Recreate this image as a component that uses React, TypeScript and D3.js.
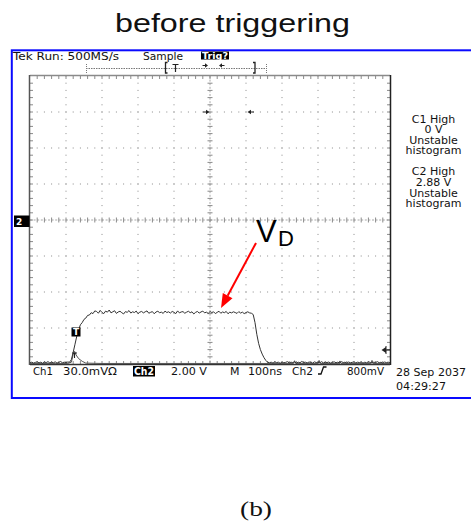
import React from "react";
import * as d3 from "d3";

// ---- data ----
const timeDomain = [-500, 500]; // ns, 100 ns/div
const voltDomain = [-8, 8]; // V, 2 V/div
const ch2Start = -500;
const ch2Step = 5;
const ch2Volts = [
  -7.93, -7.9, -7.95, -7.91, -7.88, -7.94, -7.9, -7.96, -7.89, -7.92, -7.87, -7.94, -7.9, -7.93, -7.88, -7.95, -7.91, -7.86, -7.93, -7.9, -7.92, -7.89, -7.9,
  -7.75, -7.35, -6.9, -6.45, -6.1, -5.82, -5.7, -5.52, -5.45, -5.3, -5.28, -5.15, -5.2, -5.05,
  -5.08, -5.18, -5.02, -5.14, -5.2, -5.06, -5.12, -5.0, -5.16, -5.1,
  -5.04, -5.19, -5.11, -5.07, -5.15, -5.22, -5.09, -5.13, -5.03, -5.17,
  -5.1, -5.14, -5.06, -5.2, -5.12, -5.08, -5.16, -5.1, -5.05, -5.18,
  -5.13, -5.09, -5.21, -5.11, -5.07, -5.15, -5.12, -5.19, -5.06, -5.14,
  -5.1, -5.17, -5.08, -5.13, -5.2, -5.05, -5.16, -5.11, -5.09, -5.18,
  -5.12, -5.07, -5.15, -5.1, -5.22, -5.13, -5.08, -5.17, -5.11, -5.06,
  -5.16, -5.12, -5.19, -5.09, -5.14, -5.1, -5.2, -5.13, -5.07, -5.18,
  -5.11, -5.15, -5.08, -5.21, -5.12, -5.16, -5.1, -5.14, -5.19, -5.09,
  -5.17, -5.12, -5.2, -5.14, -5.1, -5.16, -5.18,
  -5.25, -5.7, -6.35, -6.85, -7.2, -7.45, -7.65, -7.8, -7.9,
  -7.93, -7.9, -7.95, -7.88, -7.92, -7.9, -7.96, -7.89, -7.93, -7.91,
  -7.87, -7.94, -7.9, -7.92, -7.88, -7.95, -7.9, -7.93, -7.86, -7.92,
  -7.9, -7.94, -7.89, -7.91, -7.95, -7.88, -7.92, -7.9, -7.93, -7.87,
  -7.94, -7.9, -7.92, -7.89, -7.95, -7.91, -7.88, -7.93, -7.9, -7.94,
  -7.87, -7.92, -7.9, -7.95, -7.89, -7.93, -7.91, -7.88, -7.94, -7.9,
  -7.92, -7.89, -7.95, -7.9, -7.93, -7.88, -7.91, -7.94, -7.9, -7.92,
  -7.87, -7.93, -7.9, -7.95, -7.89, -7.92, -7.9, -7.93,
];
const ch1Times = [-500, -430, -395, -385, -380, -376, -372, -365, -355, -345, -300, -200, -100, 0, 100, 200, 232, 235, 238, 300, 303, 306, 358, 361, 364, 400, 447, 450, 453, 500];
const ch1Volts = [-7.97, -7.97, -7.97, -7.9, -7.45, -7.3, -7.5, -7.7, -7.85, -7.95, -7.97, -7.97, -7.97, -7.97, -7.97, -7.97, -7.97, -7.82, -7.97, -7.97, -7.8, -7.97, -7.97, -7.83, -7.97, -7.97, -7.97, -7.8, -7.97, -7.97];

const rightLabels1 = ["C1 High", "0 V", "Unstable", "histogram"];
const rightLabels2 = ["C2 High", "2.88 V", "Unstable", "histogram"];
const titleText = "before triggering";
const captionText = "(b)";

const W = 471;
const H = 529;
const X0 = 30, X1 = 390, Y0 = 76, Y1 = 364;
const FONT = "'DejaVu Sans', Verdana, sans-serif";

export default function App() {
  const x = d3.scaleLinear().domain(timeDomain).range([X0, X1]);
  const y = d3.scaleLinear().domain(voltDomain).range([Y1, Y0]);
  const div = 36;
  const sub = div / 5;

  const ch2Data = ch2Volts.map((v, i) => [ch2Start + i * ch2Step, v] as [number, number]);
  const ch1Data = ch1Times.map((t, i) => [t, ch1Volts[i]] as [number, number]);
  const line = d3.line<[number, number]>().x((d) => x(d[0])).y((d) => y(d[1]));

  const cx = x(0), cy = y(0);
  const vLines = d3.range(1, 10).filter((k) => k !== 5).map((k) => X0 + k * div);
  const hLines = d3.range(1, 8).filter((k) => k !== 4).map((k) => Y0 + k * div);
  const xSubs = d3.range(1, 50).map((k) => X0 + k * sub);
  const ySubs = d3.range(1, 40).map((k) => Y0 + k * sub);

  // red arrow
  const ax0 = 256, ay0 = 243, ax1 = 221, ay1 = 308;
  const len = Math.hypot(ax1 - ax0, ay1 - ay0);
  const ux = (ax1 - ax0) / len, uy = (ay1 - ay0) / len;
  const bx = ax1 - 14 * ux, by = ay1 - 14 * uy;
  const px = -uy, py = ux;

  const gray = "#8a8a8a";
  const txt = { fontFamily: FONT, fontSize: 11, fill: "#111" } as const;

  return (
    <svg width={W} height={H} style={{ position: "absolute", left: 0, top: 0, background: "#fff" }}>
      <rect x={0} y={0} width={W} height={H} fill="#fff" />
      {/* title */}
      <text x={115} y={32} fontFamily="'Liberation Sans', Arial, sans-serif" fontSize={26} textLength={235} lengthAdjust="spacingAndGlyphs" fill="#111">
        {titleText}
      </text>
      {/* blue frame */}
      <rect x={11.8} y={50.3} width={480} height={347.7} fill="none" stroke="#0a0aff" strokeWidth={2} />

      {/* top status */}
      <text x={13} y={59.5} {...txt} fontSize={10} textLength={106} lengthAdjust="spacingAndGlyphs">Tek Run: 500MS/s</text>
      <text x={143} y={59.5} {...txt} fontSize={10} textLength={40} lengthAdjust="spacingAndGlyphs">Sample</text>
      <rect x={201} y={51.5} width={28} height={8} fill="#000" />
      <text x={202} y={59} fontFamily={FONT} fontSize={9} fontWeight="bold" fill="#fff" textLength={26} lengthAdjust="spacingAndGlyphs">Trig?</text>

      {/* record bar */}
      <line x1={86} x2={267} y1={68.5} y2={68.5} stroke="#777" strokeDasharray="1.5 1" />
      <line x1={86.5} x2={86.5} y1={64} y2={73} stroke="#777" strokeDasharray="1 1" />
      <line x1={266.5} x2={266.5} y1={64} y2={73} stroke="#777" strokeDasharray="1 1" />
      <path d="M167.5,62.5 H165.5 V73 H167.5" fill="none" stroke="#222" strokeWidth={1.3} />
      <path d="M253,62.5 H255 V73 H253" fill="none" stroke="#222" strokeWidth={1.3} />
      <path d="M172.5,64.5 H178.5 M175.5,64.5 V72" fill="none" stroke="#222" strokeWidth={1.2} />
      <path d="M202.5,65.5 H206" stroke="#222" strokeWidth={1} />
      <path d="M208,65.5 L205,63.3 L205,67.7 Z" fill="#222" />
      <path d="M221,65.5 H224.5" stroke="#222" strokeWidth={1} />
      <path d="M219,65.5 L222,63.3 L222,67.7 Z" fill="#222" />

      {/* graticule: dotted major lines */}
      {vLines.map((vx) => (
        <line key={"v" + vx} x1={vx} x2={vx} y1={Y0} y2={Y1} stroke={gray} strokeDasharray={`1 ${sub - 1}`} strokeDashoffset={-sub + 0.5} />
      ))}
      {hLines.map((hy) => (
        <line key={"h" + hy} x1={X0} x2={X1} y1={hy} y2={hy} stroke={gray} strokeDasharray={`1 ${sub - 1}`} strokeDashoffset={-sub + 0.5} />
      ))}
      {/* centre lines */}
      <line x1={X0} x2={X1} y1={cy} y2={cy} stroke="#a8a8a8" strokeDasharray="2 1.6" />
      <line x1={cx} x2={cx} y1={Y0} y2={Y1} stroke="#a8a8a8" strokeDasharray="2 1.6" />
      {xSubs.map((sx) => (
        <line key={"cx" + sx} x1={sx} x2={sx} y1={cy - 2.5} y2={cy + 2.5} stroke={gray} />
      ))}
      {ySubs.map((sy) => (
        <line key={"cy" + sy} x1={cx - 2.5} x2={cx + 2.5} y1={sy} y2={sy} stroke={gray} />
      ))}
      {/* border ticks */}
      {xSubs.map((sx) => (
        <g key={"bt" + sx}>
          <line x1={sx} x2={sx} y1={Y0} y2={Y0 + 3} stroke={gray} />
          <line x1={sx} x2={sx} y1={Y1 - 3} y2={Y1} stroke={gray} />
        </g>
      ))}
      {ySubs.map((sy) => (
        <g key={"bl" + sy}>
          <line x1={X0} x2={X0 + 3} y1={sy} y2={sy} stroke={gray} />
          <line x1={X1 - 3} x2={X1} y1={sy} y2={sy} stroke={gray} />
        </g>
      ))}
      {/* border */}
      <line x1={X0} x2={X1} y1={Y0 - 0.5} y2={Y0 - 0.5} stroke="#8a8a8a" strokeWidth={1.5} />
      <line x1={X0 - 0.5} x2={X0 - 0.5} y1={Y0 - 1} y2={Y1 + 1} stroke="#555" strokeWidth={1.5} />
      <line x1={X1 + 0.5} x2={X1 + 0.5} y1={Y0 - 1} y2={Y1 + 1} stroke="#222" strokeWidth={1.5} />
      <line x1={X0} x2={X1} y1={Y1 + 0.5} y2={Y1 + 0.5} stroke="#333" strokeWidth={1.5} />

      {/* markers inside the graticule */}
      <path d="M203,112 H207" stroke="#222" strokeWidth={1} />
      <path d="M209.5,112 L206,109.8 L206,114.2 Z" fill="#222" />
      <path d="M250,112 H254" stroke="#222" strokeWidth={1} />
      <path d="M247.5,112 L251,109.8 L251,114.2 Z" fill="#222" />
      <path d="M385,350 H390" stroke="#222" strokeWidth={1.2} />
      <path d="M381.5,350 L386,347 L386,353 Z" fill="#222" />
      <line x1={386} x2={386} y1={346} y2={354} stroke="#222" strokeWidth={1} />

      {/* traces */}
      <path d={line(ch1Data) ?? ""} fill="none" stroke="#555" strokeWidth={1} />
      <path d={line(ch2Data) ?? ""} fill="none" stroke="#333" strokeWidth={1} />
      <path d="M72,353 H77 M74.5,353 V358" fill="none" stroke="#222" strokeWidth={1.1} />

      {/* ch2 ground marker */}
      <rect x={14} y={215.5} width={15.5} height={11.5} fill="#000" />
      <text x={16} y={224.5} fontFamily={FONT} fontSize={9} fontWeight="bold" fill="#fff">2</text>
      {/* trigger marker */}
      <rect x={71.5} y={327.5} width={9} height={9} fill="#000" />
      <text x={76} y={335.3} textAnchor="middle" fontFamily={FONT} fontSize={9} fontWeight="bold" fill="#fff">T</text>

      {/* right readouts */}
      {rightLabels1.map((s, i) => (
        <text key={"r1" + i} x={433.5} y={122.5 + i * 10.6} textAnchor="middle" {...txt}>{s}</text>
      ))}
      {rightLabels2.map((s, i) => (
        <text key={"r2" + i} x={433.5} y={175.3 + i * 10.6} textAnchor="middle" {...txt}>{s}</text>
      ))}

      {/* bottom readouts */}
      <text x={33} y={374.5} {...txt} textLength={20} lengthAdjust="spacingAndGlyphs">Ch1</text>
      <text x={63} y={374.5} {...txt} textLength={54} lengthAdjust="spacingAndGlyphs">30.0mVΩ</text>
      <rect x={133} y={366} width={22} height={10.5} fill="#000" />
      <text x={134} y={375} fontFamily={FONT} fontSize={11} fontWeight="bold" fill="#fff" textLength={20} lengthAdjust="spacingAndGlyphs">Ch2</text>
      <text x={171} y={374.5} {...txt} textLength={36} lengthAdjust="spacingAndGlyphs">2.00 V</text>
      <text x={230} y={374.5} {...txt}>M</text>
      <text x={248} y={374.5} {...txt} textLength={34} lengthAdjust="spacingAndGlyphs">100ns</text>
      <text x={292} y={374.5} {...txt} textLength={21} lengthAdjust="spacingAndGlyphs">Ch2</text>
      <path d="M318,374 H321 L323.5,367 H326.5" fill="none" stroke="#111" strokeWidth={1.3} />
      <text x={347} y={374.5} {...txt} textLength={37} lengthAdjust="spacingAndGlyphs">800mV</text>
      <text x={396} y={376} {...txt} textLength={70} lengthAdjust="spacingAndGlyphs">28 Sep 2037</text>
      <text x={396} y={390} {...txt} textLength={50} lengthAdjust="spacingAndGlyphs">04:29:27</text>

      {/* V_D annotation */}
      <text x={256} y={242} fontFamily="'Liberation Sans', Arial, sans-serif" fontSize={31} fill="#000">V</text>
      <text x={278} y={246} fontFamily="'Liberation Sans', Arial, sans-serif" fontSize={22} fill="#000">D</text>
      <line x1={ax0} y1={ay0} x2={bx} y2={by} stroke="#ff0000" strokeWidth={2} />
      <path d={`M${ax1},${ay1} L${bx + px * 5.5},${by + py * 5.5} L${bx - px * 5.5},${by - py * 5.5} Z`} fill="#ff0000" />

      {/* caption */}
      <text x={240} y={516} fontFamily="'Liberation Serif', 'Times New Roman', serif" fontSize={20} textLength={32} lengthAdjust="spacingAndGlyphs" fill="#111">
        {captionText}
      </text>
    </svg>
  );
}
